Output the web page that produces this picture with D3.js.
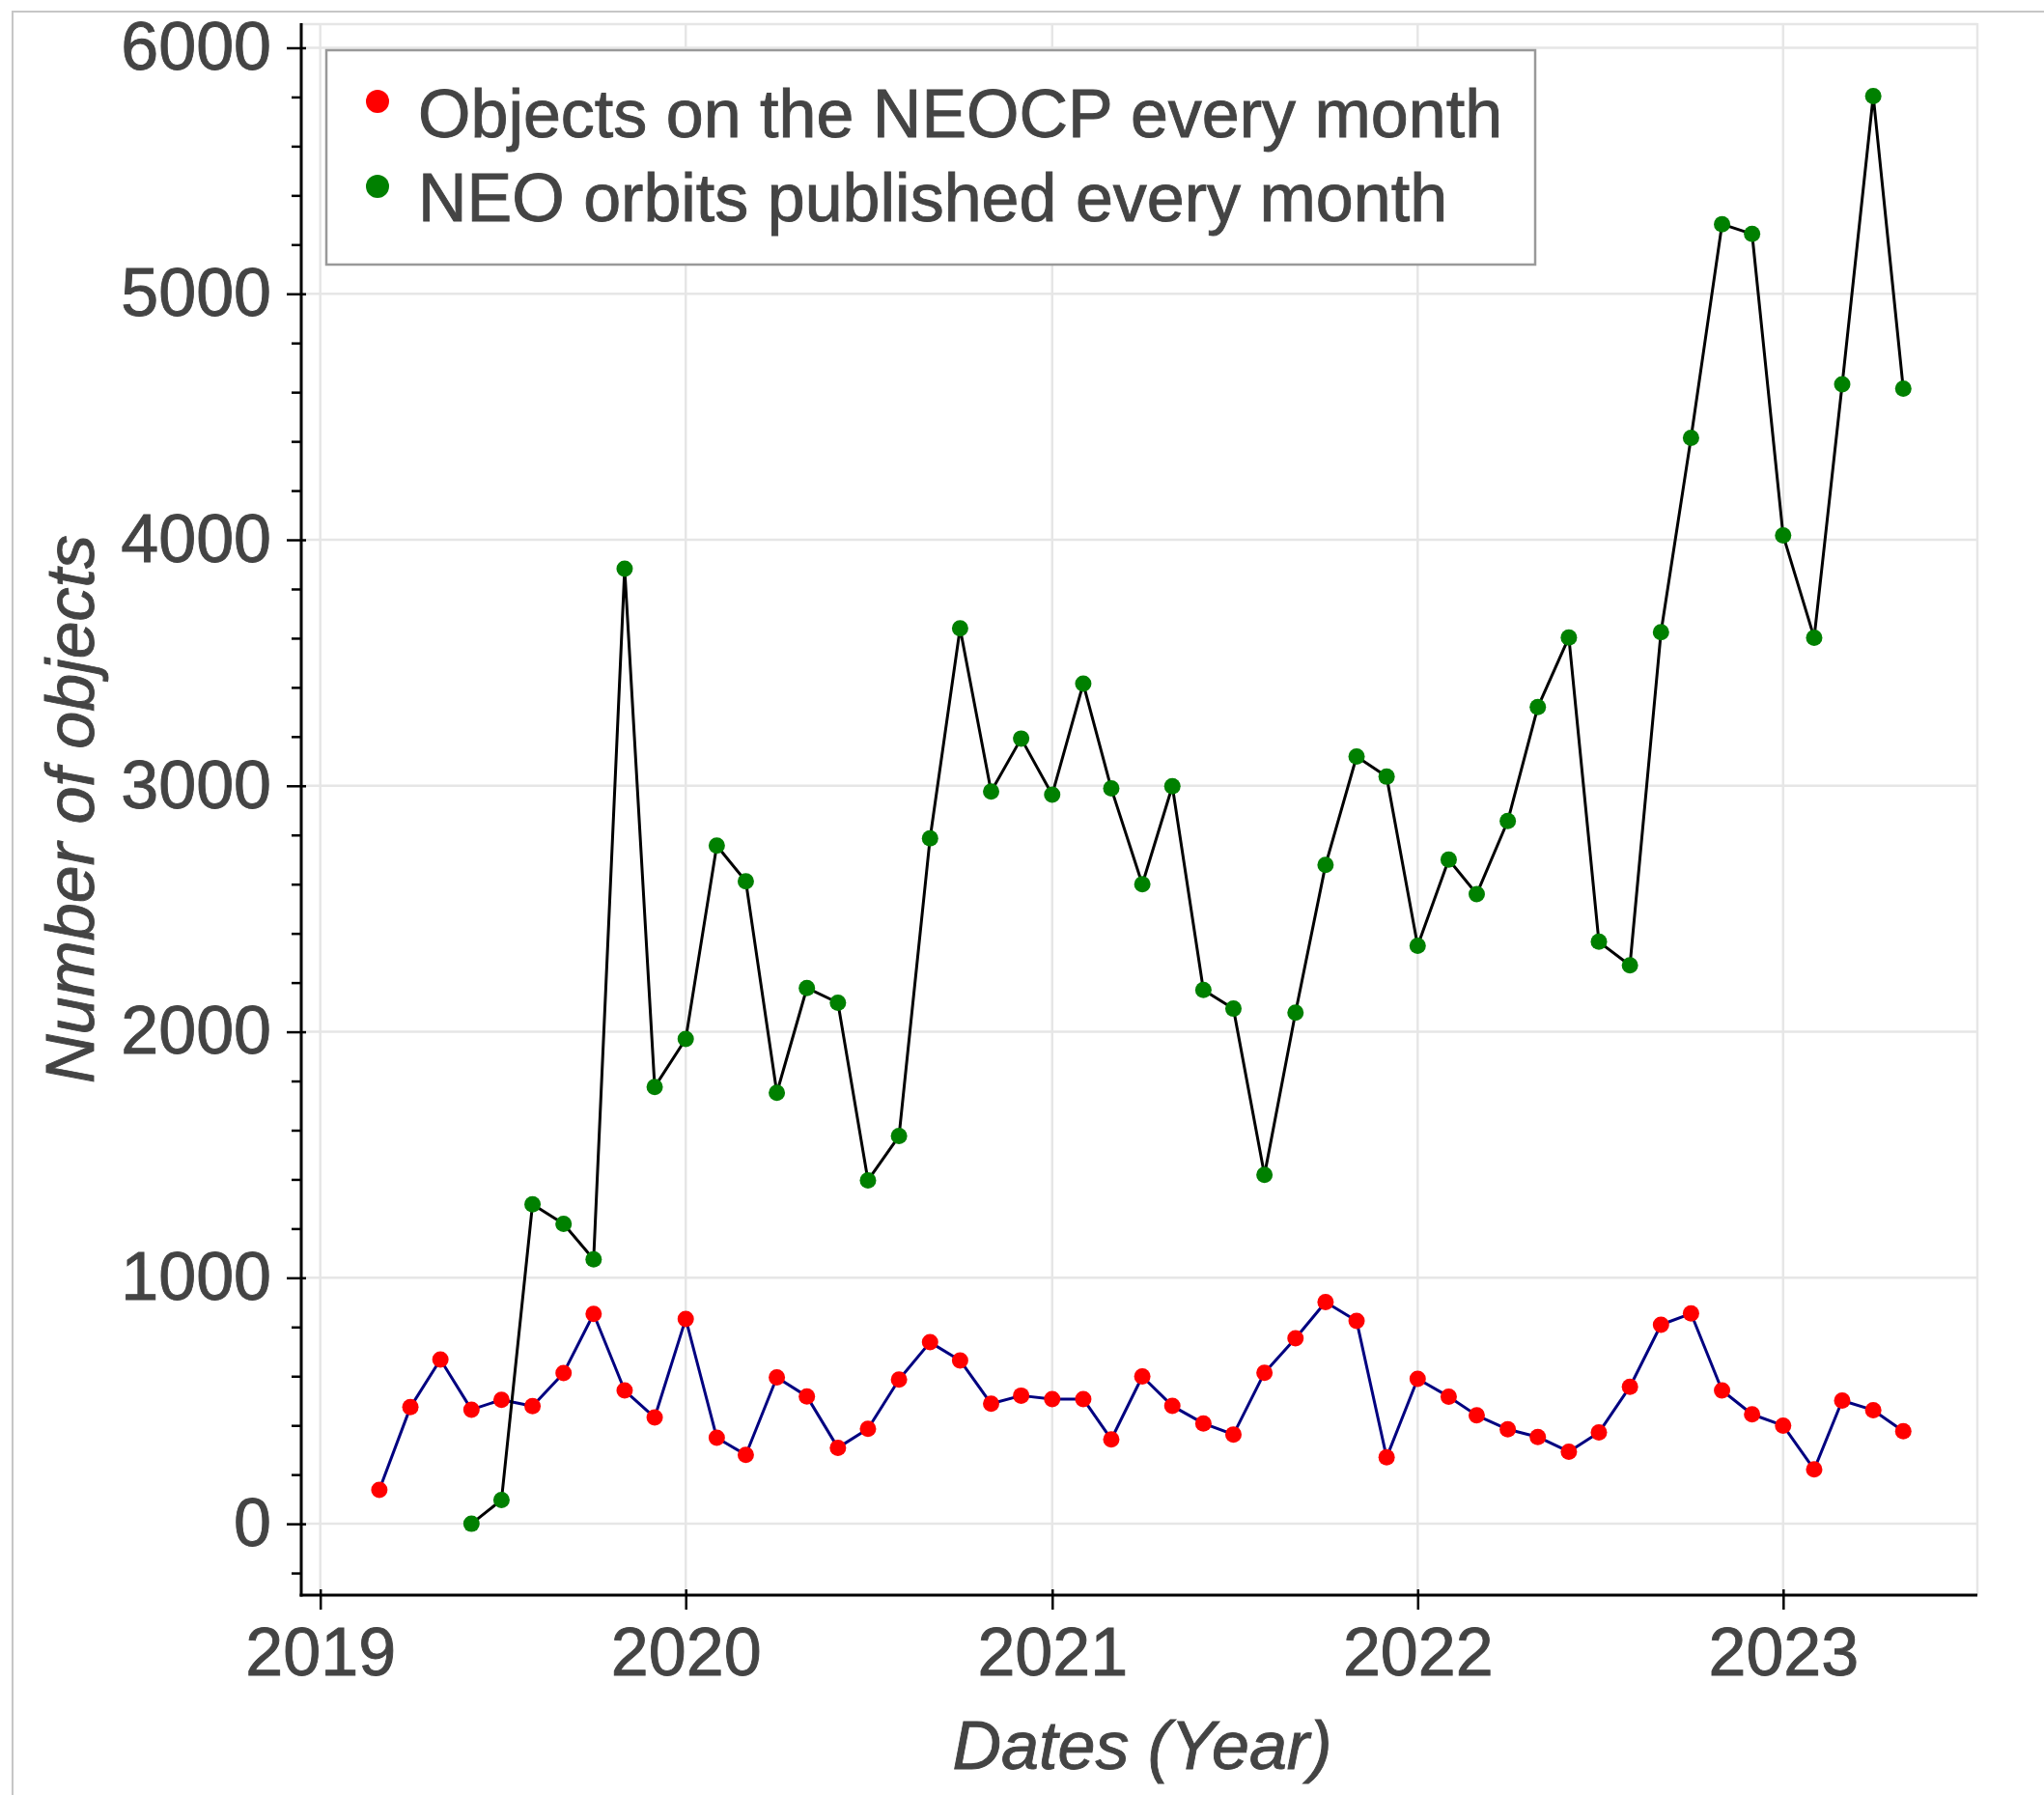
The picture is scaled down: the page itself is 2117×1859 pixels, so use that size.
<!DOCTYPE html>
<html>
<head>
<meta charset="utf-8">
<script src="https://cdn.jsdelivr.net/npm/d3@7/dist/d3.min.js"></script>
<style>
  html, body { margin: 0; padding: 0; background: #fff; }
  svg { display: block; }
  text { font-family: "Liberation Sans", Arial, Helvetica, sans-serif; fill: #444; stroke: #444; stroke-width: 0.9px; }
</style>
</head>
<body>
<script>
// Monthly counts of objects posted on the NEOCP (from March 2019)
const neocpStart = "2019-03-01";
const neocpCounts = [
  138, 474, 668, 464, 504, 478, 613, 853, 542, 432,
  833, 350, 280, 595, 518, 309, 386, 586, 738, 664, 488, 521,
  507, 507, 343, 599, 479, 408, 363, 614, 754, 901, 825, 270,
  589, 517, 441, 384, 353, 293, 371, 557, 809, 855, 542, 445,
  399, 221, 501, 462, 376
];

// Monthly counts of NEO orbits published (from June 2019)
const orbitsStart = "2019-06-01";
const orbitCounts = [
  0, 97, 1299, 1219, 1075, 3882, 1776,
  1971, 2757, 2612, 1752, 2178, 2118, 1396, 1576, 2786, 3640, 2977, 3192,
  2964, 3415, 2989, 2600, 2998, 2170, 2094, 1418, 2078, 2678, 3119, 3037,
  2350, 2700, 2560, 2857, 3320, 3603, 2366, 2270, 3624, 4414, 5283, 5243,
  4018, 3602, 4632, 5804, 4614
];

const yearTicks = [2019, 2020, 2021, 2022, 2023];
const countTicks = [0, 1000, 2000, 3000, 4000, 5000, 6000];
const seriesNames = ["Objects on the NEOCP every month", "NEO orbits published every month"];

const W = 2117, H = 1859;
const plot = { left: 312, right: 2048, top: 24, bottom: 1652 };

const monthsFrom = (start, n) => {
  const s = new Date(start + "T00:00:00Z");
  return d3.utcMonth.range(s, d3.utcMonth.offset(s, n));
};
const neocp = monthsFrom(neocpStart, neocpCounts.length).map((d, i) => ({ date: d, value: neocpCounts[i] }));
const orbits = monthsFrom(orbitsStart, orbitCounts.length).map((d, i) => ({ date: d, value: orbitCounts[i] }));

const x = d3.scaleUtc()
  .domain([new Date(Date.UTC(2018, 11, 13)), new Date(Date.UTC(2023, 6, 14))])
  .range([plot.left, plot.right]);
const y = d3.scaleLinear()
  .domain([-290, 6100])
  .range([plot.bottom, plot.top]);

const svg = d3.select("body").append("svg")
  .attr("width", W).attr("height", H);

svg.append("rect").attr("width", W).attr("height", H).attr("fill", "#fff");

// outer frame
svg.append("rect")
  .attr("x", 13).attr("y", 12).attr("width", W + 20).attr("height", H + 20)
  .attr("fill", "none").attr("stroke", "#c6c6c6").attr("stroke-width", 2);

// grid
const grid = svg.append("g").attr("stroke", "#e6e6e6").attr("stroke-width", 2.5);
grid.selectAll("line.h").data(countTicks).join("line")
  .attr("x1", plot.left).attr("x2", plot.right)
  .attr("y1", d => y(d)).attr("y2", d => y(d));
const yearDates = yearTicks.map(yr => new Date(Date.UTC(yr, 0, 1)));
grid.selectAll("line.v").data(yearDates).join("line")
  .attr("y1", plot.top).attr("y2", plot.bottom)
  .attr("x1", d => x(d)).attr("x2", d => x(d));
grid.append("line").attr("x1", plot.left).attr("x2", plot.right).attr("y1", plot.top + 1).attr("y2", plot.top + 1);
grid.append("line").attr("x1", plot.right).attr("x2", plot.right).attr("y1", plot.top).attr("y2", plot.bottom);

// axes
const fontSize = 70;
const yAxis = svg.append("g").attr("transform", `translate(${plot.left},0)`)
  .call(d3.axisLeft(y).tickValues(countTicks).tickFormat(d3.format("d"))
    .tickSizeInner(15).tickSizeOuter(0).tickPadding(16));
yAxis.select(".domain").remove();
yAxis.selectAll(".tick line").attr("x1", 5).attr("stroke", "#000").attr("stroke-width", 2.5);
yAxis.selectAll(".tick text").attr("font-size", fontSize).attr("fill", "#444")
  .attr("font-family", "Liberation Sans, Arial, sans-serif");

const minorVals = d3.range(-200, 6001, 200).filter(v => v % 1000 !== 0);
const yMinor = svg.append("g").attr("transform", `translate(${plot.left},0)`)
  .call(d3.axisLeft(y).tickValues(minorVals).tickFormat("").tickSizeInner(10).tickSizeOuter(0));
yMinor.select(".domain").remove();
yMinor.selectAll(".tick line").attr("stroke", "#000").attr("stroke-width", 2.5);

const xAxis = svg.append("g").attr("transform", `translate(0,${plot.bottom})`)
  .call(d3.axisBottom(x).tickValues(yearDates).tickFormat(d3.utcFormat("%Y"))
    .tickSizeInner(15).tickSizeOuter(0).tickPadding(18));
xAxis.select(".domain").remove();
xAxis.selectAll(".tick line").attr("y1", -6).attr("stroke", "#000").attr("stroke-width", 2.5);
xAxis.selectAll(".tick text").attr("font-size", fontSize).attr("fill", "#444")
  .attr("font-family", "Liberation Sans, Arial, sans-serif");

svg.append("line").attr("x1", plot.left).attr("x2", plot.left)
  .attr("y1", plot.top).attr("y2", plot.bottom + 1.5)
  .attr("stroke", "#000").attr("stroke-width", 3);
svg.append("line").attr("x1", plot.left - 1.5).attr("x2", plot.right)
  .attr("y1", plot.bottom).attr("y2", plot.bottom)
  .attr("stroke", "#000").attr("stroke-width", 3);

// axis titles
svg.append("text")
  .attr("x", 1183).attr("y", 1832)
  .attr("text-anchor", "middle").attr("font-size", fontSize).attr("font-style", "italic")
  .text("Dates (Year)");
svg.append("text")
  .attr("transform", "translate(97,838) rotate(-90)")
  .attr("text-anchor", "middle").attr("font-size", fontSize).attr("font-style", "italic")
  .text("Number of objects");

// series
const line = d3.line().x(d => x(d.date)).y(d => y(d.value));
const series = [
  { data: neocp, lineColor: "#000080", dotColor: "#ff0000" },
  { data: orbits, lineColor: "#000000", dotColor: "#008000" }
];
series.forEach(s => {
  svg.append("path").datum(s.data)
    .attr("d", line).attr("fill", "none")
    .attr("stroke", s.lineColor).attr("stroke-width", 3).attr("stroke-linejoin", "round");
  svg.append("g").selectAll("circle").data(s.data).join("circle")
    .attr("cx", d => x(d.date)).attr("cy", d => y(d.value))
    .attr("r", 8.5).attr("fill", s.dotColor);
});

// legend
const legend = svg.append("g");
legend.append("rect")
  .attr("x", 338).attr("y", 52).attr("width", 1252).attr("height", 222)
  .attr("fill", "#fff").attr("stroke", "#999").attr("stroke-width", 2.5);
const legendRows = [
  { name: seriesNames[0], color: "#ff0000", cy: 105, base: 142 },
  { name: seriesNames[1], color: "#008000", cy: 193, base: 229 }
];
legendRows.forEach(r => {
  legend.append("circle").attr("cx", 391).attr("cy", r.cy).attr("r", 12).attr("fill", r.color);
  legend.append("text").attr("x", 433).attr("y", r.base).attr("font-size", fontSize).text(r.name);
});
</script>
</body>
</html>
